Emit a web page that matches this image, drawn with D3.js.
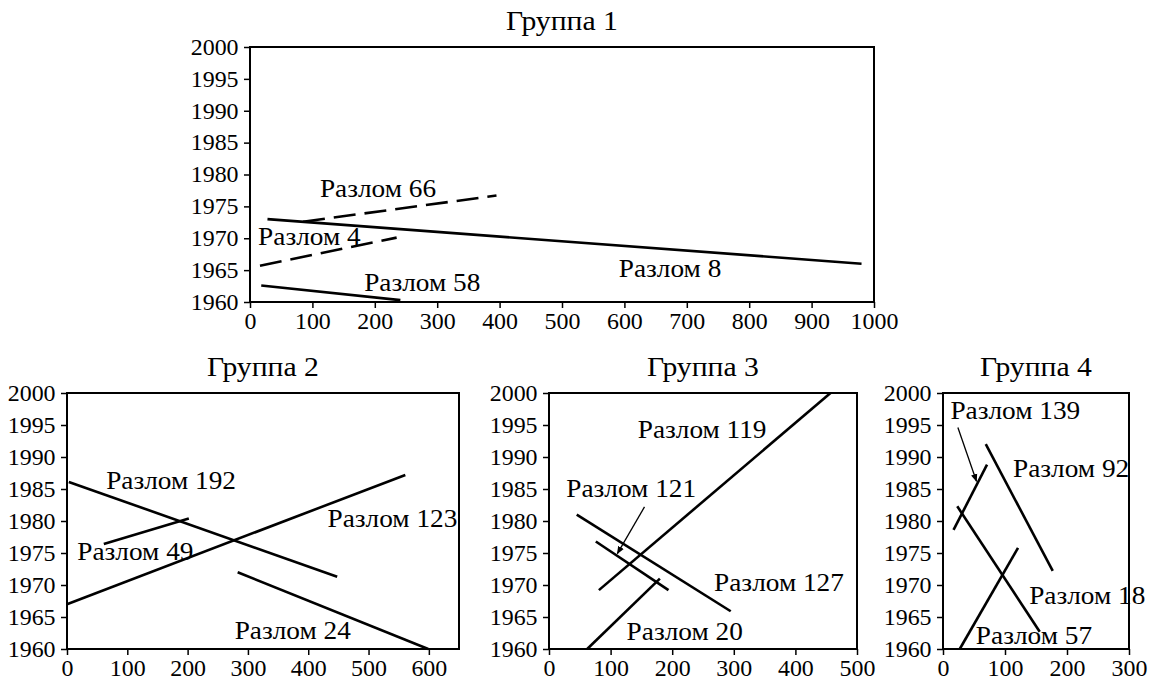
<!DOCTYPE html>
<html lang="ru">
<head>
<meta charset="utf-8">
<title>Разломы по группам</title>
<script src="https://d3js.org/d3.v7.min.js"></script>
<style>
  body { margin: 0; background: #fff; }
  svg { display: block; }
  svg text { font-family: "Liberation Serif", "DejaVu Serif", serif; fill: #000; }
  .frame { fill: none; stroke: #000; stroke-width: 2px; }
  .axis path { display: none; }
  .axis line { stroke: #000; stroke-width: 1.5px; }
  .axis text { font-size: 23px; font-family: "Liberation Serif", "DejaVu Serif", serif; }
  .fault { fill: none; stroke: #000; stroke-width: 2.6px; }
  .label { font-size: 26px; }
  .title { font-size: 27px; }
  .pointer { stroke: #000; stroke-width: 1.3px; }
</style>
</head>
<body>
<script>
// ---- data (x: distance, y: year) ----
var years = [1960, 1965, 1970, 1975, 1980, 1985, 1990, 1995, 2000];

var g1Ticks = [0, 100, 200, 300, 400, 500, 600, 700, 800, 900, 1000];
var g1Names = ["Разлом 8", "Разлом 66", "Разлом 4", "Разлом 58"];
var g1From = [[28, 1973], [85, 1972.6], [16, 1965.7], [18, 1962.6]];
var g1To = [[980, 1966], [395, 1976.7], [235, 1970.1], [241, 1960.3]];
var g1Dashed = [false, true, true, false];
var g1LabelAt = [[591, 1964], [112, 1976.5], [13, 1968.9], [183, 1961.8]];

var g2Ticks = [0, 100, 200, 300, 400, 500, 600];
var g2Names = ["Разлом 192", "Разлом 123", "Разлом 49", "Разлом 24"];
var g2From = [[3, 1986.1], [0, 1967], [61, 1976.4], [283, 1972]];
var g2To = [[448, 1971.3], [561, 1987.2], [202, 1980.4], [599, 1960]];
var g2LabelAt = [[65, 1985], [432, 1979.1], [17, 1973.9], [278, 1961.6]];

var g3Ticks = [0, 100, 200, 300, 400, 500];
var g3Names = ["Разлом 119", "Разлом 121", "Разлом 127", "Разлом 20"];
var g3From = [[81, 1969.2], [76, 1976.8], [45, 1981], [62, 1960]];
var g3To = [[457, 2000], [194, 1969.2], [295, 1965.9], [180, 1971]];
var g3LabelAt = [[144, 1993], [28, 1983.8], [268, 1969], [126, 1961.35]];
var g3Arrow = [[155, 1982.2], [111, 1974.9]];

var g4Ticks = [0, 100, 200, 300];
var g4Names = ["Разлом 139", "Разлом 92", "Разлом 18", "Разлом 57"];
var g4From = [[17, 1978.6], [69, 1992], [23, 1982.3], [27, 1960]];
var g4To = [[71, 1988.8], [177, 1972.2], [156, 1962.7], [121, 1975.8]];
var g4LabelAt = [[12, 1996], [113, 1986.9], [139, 1967], [53, 1960.8]];
var g4Arrow = [[24, 1994.6], [54, 1986.2]];

var width = 1150, height = 681;

var svg = d3.select("body").append("svg")
    .attr("width", width)
    .attr("height", height);

svg.append("defs").append("marker")
    .attr("id", "head")
    .attr("viewBox", "0 0 10 10")
    .attr("refX", 9).attr("refY", 5)
    .attr("markerWidth", 8).attr("markerHeight", 8)
    .attr("markerUnits", "userSpaceOnUse")
    .attr("orient", "auto")
  .append("path")
    .attr("d", "M0,1L10,5L0,9Z")
    .attr("fill", "#000");

// the scanned original has slightly wide lettering
function stretch(px, py, k) {
  return "translate(" + px + "," + py + ") scale(" + k + ",1)";
}

function panel(opt) {
  var x = d3.scaleLinear().domain([0, opt.xMax]).range([opt.left, opt.right]);
  var y = d3.scaleLinear().domain([1960, 2000]).range([opt.bottom, opt.top]);
  var g = svg.append("g");

  g.append("text")
      .attr("class", "title")
      .attr("text-anchor", "middle")
      .attr("transform", stretch((opt.left + opt.right) / 2, opt.top - 17, 1.1))
      .text(opt.title);

  var ya = g.append("g")
      .attr("class", "axis")
      .attr("transform", "translate(" + opt.left + ",0)")
      .call(d3.axisLeft(y).tickValues(years).tickSize(6).tickPadding(5).tickFormat(d3.format("d")));

  var xa = g.append("g")
      .attr("class", "axis")
      .attr("transform", "translate(0," + opt.bottom + ")")
      .call(d3.axisBottom(x).tickValues(opt.ticks).tickSize(6).tickPadding(5).tickFormat(d3.format("d")));

  ya.selectAll("text").attr("transform", "scale(1.04,1)");
  xa.selectAll("text").attr("transform", "scale(1.04,1)");

  g.append("rect")
      .attr("class", "frame")
      .attr("x", opt.left)
      .attr("y", opt.top)
      .attr("width", opt.right - opt.left)
      .attr("height", opt.bottom - opt.top);

  g.selectAll("line.fault")
      .data(opt.from)
      .enter().append("line")
      .attr("class", "fault")
      .attr("x1", d => x(d[0]))
      .attr("y1", d => y(d[1]))
      .attr("x2", (d, i) => x(opt.to[i][0]))
      .attr("y2", (d, i) => y(opt.to[i][1]))
      .style("stroke-dasharray", (d, i) => opt.dashed && opt.dashed[i] ? "22,9" : null);

  g.selectAll("text.label")
      .data(opt.names)
      .enter().append("text")
      .attr("class", "label")
      .attr("transform", (d, i) => stretch(x(opt.labelAt[i][0]), y(opt.labelAt[i][1]), 1.05))
      .text(d => d);

  if (opt.arrow) {
    g.append("line")
      .attr("class", "pointer")
      .attr("x1", x(opt.arrow[0][0]))
      .attr("y1", y(opt.arrow[0][1]))
      .attr("x2", x(opt.arrow[1][0]))
      .attr("y2", y(opt.arrow[1][1]))
      .attr("marker-end", "url(#head)");
  }
}

panel({ title: "Группа 1", left: 250, right: 874, top: 47, bottom: 302, xMax: 1000,
        ticks: g1Ticks, names: g1Names, from: g1From, to: g1To, dashed: g1Dashed, labelAt: g1LabelAt });
panel({ title: "Группа 2", left: 67, right: 459, top: 393, bottom: 649, xMax: 650,
        ticks: g2Ticks, names: g2Names, from: g2From, to: g2To, labelAt: g2LabelAt });
panel({ title: "Группа 3", left: 549, right: 857, top: 393, bottom: 649, xMax: 500,
        ticks: g3Ticks, names: g3Names, from: g3From, to: g3To, labelAt: g3LabelAt, arrow: g3Arrow });
panel({ title: "Группа 4", left: 943, right: 1129, top: 393, bottom: 649, xMax: 300,
        ticks: g4Ticks, names: g4Names, from: g4From, to: g4To, labelAt: g4LabelAt, arrow: g4Arrow });
</script>
</body>
</html>
